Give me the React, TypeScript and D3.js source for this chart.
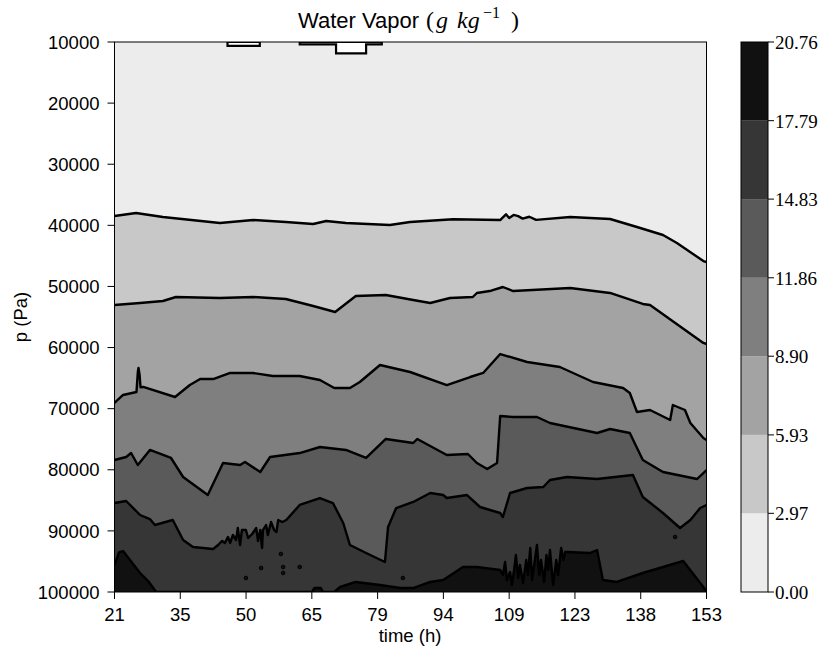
import React from "react";
import * as d3 from "d3";

// ---- data ----
const timeTicks: number[] = d3.range(10).map((i) => 21 + (i * 132) / 9);
const pressureTicks: number[] = [10000, 20000, 30000, 40000, 50000, 60000, 70000, 80000, 90000, 100000];
const levels: number[] = [0, 2.97, 5.93, 8.9, 11.86, 14.83, 17.79, 20.76];
const bandColors: string[] = ["#ececec", "#c8c8c8", "#a3a3a3", "#7f7f7f", "#5a5a5a", "#363636", "#111111"];

type Pt = [number, number]; // [time h, pressure Pa]

const level297: Pt[] = [[21,38470],[25.8,37980],[31.8,38640],[44.5,39620],[51.9,39130],[59.2,39450],[65.3,39780],[68.2,39290],[72.6,39620],[82.4,39950],[86.9,39450],[96.5,39000],[107,39130],[107.6,38700],[108.3,38200],[109,38800],[110,38300],[111,38500],[112,38900],[113.5,38600],[115,39100],[122.6,38640],[131.5,38960],[137.5,40270],[143.3,41580],[146.4,42890],[152.3,45840],[153,46000]];

const level593: Pt[] = [[21,53040],[26.7,52710],[31.8,52380],[34.7,51730],[44.5,51890],[51.9,51730],[59.2,52050],[65.3,53200],[70.2,54180],[74.8,51560],[81.5,51400],[87.6,52220],[91.4,52710],[95.8,51890],[100.9,51730],[101.8,51070],[105,50700],[107.6,50090],[109.9,50750],[122.6,50255],[131.5,51070],[138.8,52870],[140.4,53040],[152.3,59250],[153,59420]];

const level890: Pt[] = [[21,69070],[22.9,67760],[25.9,67270],[26.2,64000],[26.35,63350],[26.6,64500],[26.8,66500],[27.4,66450],[34.5,68090],[37.8,66130],[40.1,65150],[43,65150],[46.8,64160],[51.9,64160],[56.3,64650],[62.3,64650],[66.8,65310],[70,66620],[73.5,66620],[75.7,65640],[80.2,62860],[86.9,64000],[95.1,66130],[100.3,64820],[103.2,64160],[107,61060],[113,62360],[120.3,63180],[127.7,65640],[134.4,66620],[135.9,67440],[137.5,70550],[140.4,70220],[144.9,71860],[145.5,69400],[148.2,70220],[149.4,72350],[152.3,74800],[153,75130]];

const level1186: Pt[] = [[21,78400],[23.6,77910],[24.7,77260],[26.2,79220],[28.9,76760],[33.6,78070],[36.3,81180],[41.8,84130],[45.2,78890],[49,79220],[50.1,78730],[53.5,80360],[55.7,77910],[62.3,77260],[66.8,76270],[72.6,76760],[77.1,78070],[81.5,74960],[87.6,75620],[88.5,74960],[95.1,77580],[99.8,77420],[101.8,78890],[104.1,79870],[106.3,78890],[107,71200],[109.9,71360],[115.2,71360],[118.1,72350],[128.6,73980],[131.5,73330],[135.9,73980],[138.8,78400],[143.3,80360],[150.9,81510],[152.3,80530],[153,80040]];

const level1483: Pt[] = [[21,85440],[23.6,85110],[26.7,87400],[28.9,88060],[30,89040],[34,88220],[36.3,91490],[38.5,92640],[43,92960],[44.1,92310],[45,91650],[45.6,91980],[46.3,91000],[46.8,91980],[47.4,90670],[48.1,91490],[48.5,89530],[49,92310],[49.4,89860],[50.3,89860],[50.8,91160],[51.7,90510],[52.6,89530],[53,91650],[53.5,89860],[53.9,92800],[54.1,89860],[54.8,89040],[55.2,90670],[55.9,88550],[56.6,89860],[57.1,90180],[57.5,88220],[58.4,88550],[59.3,88220],[62.3,85760],[66.8,84620],[69.7,85440],[72,88710],[73.5,92310],[77.1,93620],[81.3,95090],[82,89360],[83.8,86260],[87.6,85270],[91.4,83800],[94.3,84130],[95.1,84620],[99.6,84130],[102.5,86090],[107,87070],[107.6,87730],[109.2,83800],[113,82980],[116.6,82820],[118.1,81670],[121.9,81180],[128.6,81510],[136.6,80860],[138.8,84460],[143.3,87070],[147.1,89530],[149.4,88220],[151.6,86260],[153,85760]];

const level1779: Pt[] = [[21,95600],[22,93500],[22.9,93300],[24.5,94800],[26.7,96900],[28.5,98200],[30.3,100000],[65,100000],[65.6,99350],[67,99350],[67.5,100000],[70,100000],[71.3,99180],[74.8,98360],[80.2,98860],[84.7,99350],[87.6,99350],[91.4,98360],[94.3,98040],[98.7,95910],[101.8,95910],[107,96400],[107.6,97220],[108.1,95090],[108.5,98040],[109.2,96730],[109.6,98860],[110.1,96400],[110.5,93950],[111,97710],[111.4,95580],[112.1,98530],[112.8,94770],[113.2,97220],[113.7,92800],[114.1,98040],[114.8,94440],[115.2,92310],[115.7,97220],[116.1,94770],[116.8,98360],[117.3,93950],[117.7,96400],[118.1,93130],[118.8,98860],[119.5,94770],[119.9,97220],[120.6,92800],[121.1,94770],[121.5,93460],[122,93460],[127,93620],[128.6,93130],[129.9,98040],[133,98360],[138.8,96890],[147.8,94930],[152.3,99180],[153,100000]];

const boundaries: Pt[][] = [level297, level593, level890, level1186, level1483, level1779];

const topIsland1: Pt[] = [[46.2,10000],[46.2,10650],[53.4,10650],[53.4,10000]];
const topIsland2: Pt[] = [[62.3,10000],[62.3,10380],[70.4,10380],[70.4,11850],[77.1,11850],[77.1,10380],[80.6,10380],[80.6,10000]];
const islands: Pt[][] = [topIsland1, topIsland2];

const darkSpots: Pt[] = [[58.1,93780],[53.7,96070],[58.6,95910],[58.6,96890],[50.3,97710],[62.3,95910],[85.3,97710],[146,91000]];

// ---- layout ----
const W = 831, H = 656;
const L = 114.5, R = 706.5, T = 42, B = 592;
const CBX = 741, CBW = 27;
const SANS = "'Liberation Sans', Arial, sans-serif";
const SERIF = "'Liberation Serif', 'DejaVu Serif', serif";
const FS = 18.5;

export default function App() {
  const x = d3.scaleLinear().domain([21, 153]).range([L, R]);
  const y = d3.scaleLinear().domain([10000, 100000]).range([T, B]);
  const yc = d3.scaleLinear().domain([0, 20.76]).range([B, T]);

  const area = d3.area<Pt>().x((d) => x(d[0])).y0(y(100000)).y1((d) => y(d[1]));
  const line = d3.line<Pt>().x((d) => x(d[0])).y((d) => y(d[1]));

  return (
    <svg width={W} height={H} style={{ position: "absolute", left: 0, top: 0, background: "#fff" }}>
      <defs>
        <clipPath id="plotclip">
          <rect x={L} y={T} width={R - L} height={B - T} />
        </clipPath>
      </defs>
      <g clipPath="url(#plotclip)">
        <rect x={L} y={T} width={R - L} height={B - T} fill={bandColors[0]} />
        {boundaries.map((b, i) => (
          <path key={"a" + i} d={area(b) || ""} fill={bandColors[i + 1]} />
        ))}
        {islands.map((p, i) => (
          <path key={"i" + i} d={(line(p) || "") + "Z"} fill="#ffffff" stroke="#000" strokeWidth={2.2} />
        ))}
        {darkSpots.map((d, i) => (
          <circle key={"s" + i} cx={x(d[0])} cy={y(d[1])} r={1.8} fill="#111" stroke="#000" strokeWidth={1} />
        ))}
        {boundaries.map((b, i) => (
          <path key={"l" + i} d={line(b) || ""} fill="none" stroke="#000" strokeWidth={2.4} strokeLinejoin="round" />
        ))}
      </g>
      <rect x={L} y={T} width={R - L} height={B - T} fill="none" stroke="#000" strokeWidth={1} />

      {pressureTicks.map((p) => (
        <g key={"yt" + p}>
          <line x1={L - 7} x2={L} y1={y(p)} y2={y(p)} stroke="#000" strokeWidth={1} />
          <text x={L - 15} y={y(p)} dy="0.36em" textAnchor="end" fontFamily={SANS} fontSize={FS}>{p}</text>
        </g>
      ))}
      {timeTicks.map((t) => (
        <g key={"xt" + t}>
          <line x1={x(t)} x2={x(t)} y1={B} y2={B + 7} stroke="#000" strokeWidth={1} />
          <text x={x(t)} y={B + 29} textAnchor="middle" fontFamily={SANS} fontSize={FS}>{Math.floor(t + 1e-9)}</text>
        </g>
      ))}

      <text x={410} y={642} textAnchor="middle" fontFamily={SANS} fontSize={FS}>time (h)</text>
      <text transform={`translate(27,${(T + B) / 2}) rotate(-90)`} textAnchor="middle" fontFamily={SANS} fontSize={FS}>p (Pa)</text>

      <text y={28} fontSize={22}>
        <tspan x={298} fontFamily={SANS}>Water Vapor</tspan>
        <tspan x={426} fontFamily={SERIF} fontSize={24}>(</tspan>
        <tspan x={436} fontFamily={SERIF} fontSize={24} fontStyle="italic">g</tspan>
        <tspan x={457} fontFamily={SERIF} fontSize={24} fontStyle="italic">kg</tspan>
        <tspan x={483} fontFamily={SERIF} fontSize={16} dy={-10}>−1</tspan>
        <tspan x={511} fontFamily={SERIF} fontSize={24} dy={10}>)</tspan>
      </text>

      {levels.slice(0, -1).map((lv, i) => (
        <rect key={"cb" + i} x={CBX} width={CBW} y={yc(levels[i + 1])} height={yc(lv) - yc(levels[i + 1])} fill={bandColors[i]} />
      ))}
      <rect x={CBX} y={T} width={CBW} height={B - T} fill="none" stroke="#000" strokeWidth={1} />
      {levels.map((lv) => (
        <g key={"ct" + lv}>
          <line x1={CBX + CBW} x2={CBX + CBW + 6} y1={yc(lv)} y2={yc(lv)} stroke="#000" strokeWidth={1} />
          <text x={CBX + CBW + 7} y={yc(lv)} dy="0.36em" fontFamily={SERIF} fontSize={19}>{lv.toFixed(2)}</text>
        </g>
      ))}
    </svg>
  );
}
